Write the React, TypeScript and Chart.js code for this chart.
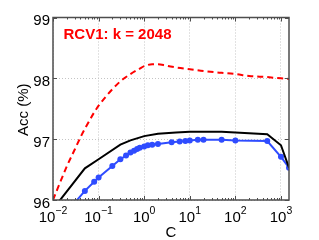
import { useEffect, useRef } from 'react';
import { Chart, registerables } from 'chart.js';

Chart.register(...registerables);

// C values and accuracies (%)
const cRed = [0.01, 0.02, 0.03, 0.04, 0.05, 0.08, 0.1, 0.2, 0.3, 0.5, 0.8, 1, 1.5, 2, 3, 5, 10, 20, 50, 100, 200, 500, 1000, 1500];
const accRed = [96.0, 96.55, 96.83, 97.03, 97.17, 97.44, 97.55, 97.82, 97.95, 98.07, 98.16, 98.2, 98.23, 98.23, 98.21, 98.18, 98.15, 98.12, 98.09, 98.07, 98.04, 98.02, 98.0, 97.99];

const cBlack = [0.01, 0.05, 0.1, 0.3, 0.5, 1, 2, 5, 10, 20, 50, 100, 500, 1000, 1500];
const accBlack = [95.85, 96.52, 96.67, 96.91, 96.98, 97.05, 97.09, 97.11, 97.12, 97.12, 97.12, 97.11, 97.08, 96.9, 96.53];

const cBlue = [0.02, 0.05, 0.08, 0.1, 0.2, 0.3, 0.4, 0.5, 0.6, 0.7, 0.8, 1, 1.2, 1.5, 2, 4, 6, 8, 10, 15, 20, 50, 100, 500, 1000, 1500];
const accBlue = [95.8, 96.15, 96.3, 96.37, 96.56, 96.67, 96.73, 96.78, 96.81, 96.84, 96.86, 96.88, 96.9, 96.91, 96.92, 96.95, 96.96, 96.97, 96.98, 96.99, 96.99, 96.99, 96.98, 96.97, 96.71, 96.53];

const xTickExps = [-2, -1, 0, 1, 2, 3];
const yTicks = [96, 97, 98, 99];
const annotation = 'RCV1: k = 2048';
const xTitle = 'C';
const yTitle = 'Acc (%)';

const FONT = '"Liberation Sans", Arial, Helvetica, sans-serif';

const decoPlugin = {
  id: 'deco',
  afterDraw(chart: any) {
    const { ctx, chartArea: a, scales } = chart;
    const x = scales.x;
    const y = scales.y;
    ctx.save();
    // frame
    ctx.strokeStyle = '#4d4d4d';
    ctx.lineWidth = 1.5;
    ctx.setLineDash([]);
    ctx.strokeRect(a.left, a.top, a.right - a.left, a.bottom - a.top);

    // ticks (inward)
    ctx.lineWidth = 1;
    ctx.beginPath();
    for (const e of xTickExps) {
      const px = Math.round(x.getPixelForValue(Math.pow(10, e))) + 0.5;
      ctx.moveTo(px, a.bottom); ctx.lineTo(px, a.bottom - 4);
      ctx.moveTo(px, a.top); ctx.lineTo(px, a.top + 4);
      for (let m = 2; m <= 9; m++) {
        const v = m * Math.pow(10, e);
        if (v > x.max) break;
        const mx = Math.round(x.getPixelForValue(v)) + 0.5;
        ctx.moveTo(mx, a.bottom); ctx.lineTo(mx, a.bottom - 2);
        ctx.moveTo(mx, a.top); ctx.lineTo(mx, a.top + 2);
      }
    }
    for (const v of yTicks) {
      const py = Math.round(y.getPixelForValue(v)) + 0.5;
      ctx.moveTo(a.left, py); ctx.lineTo(a.left + 4, py);
      ctx.moveTo(a.right, py); ctx.lineTo(a.right - 4, py);
    }
    ctx.stroke();

    // y tick labels
    ctx.fillStyle = '#000';
    ctx.font = `15px ${FONT}`;
    ctx.textAlign = 'right';
    ctx.textBaseline = 'alphabetic';
    for (const v of yTicks) {
      ctx.fillText(String(v), a.left - 3, y.getPixelForValue(v) + 7.5);
    }

    // x tick labels: 10 with superscript exponent
    ctx.textAlign = 'left';
    for (const e of xTickExps) {
      const px = x.getPixelForValue(Math.pow(10, e));
      const base = '10';
      const exp = e < 0 ? '\u2212' + Math.abs(e) : String(e);
      ctx.font = `15px ${FONT}`;
      const wb = ctx.measureText(base).width;
      ctx.font = `10.5px ${FONT}`;
      const we = ctx.measureText(exp).width;
      const start = px - (wb + we) / 2;
      ctx.font = `15px ${FONT}`;
      ctx.fillText(base, start, a.bottom + 21.5);
      ctx.font = `10.5px ${FONT}`;
      ctx.fillText(exp, start + wb, a.bottom + 13.5);
    }

    // axis titles
    ctx.font = `15px ${FONT}`;
    ctx.textAlign = 'center';
    ctx.fillText(xTitle, (a.left + a.right) / 2, a.bottom + 36.5);
    ctx.save();
    ctx.translate(28, (a.top + a.bottom) / 2 + 1);
    ctx.rotate(-Math.PI / 2);
    ctx.fillText(yTitle, 0, 0);
    ctx.restore();

    // annotation
    ctx.fillStyle = '#ff0000';
    ctx.font = `bold 15px ${FONT}`;
    ctx.textAlign = 'left';
    ctx.fillText(annotation, a.left + 10.5, a.top + 21);
    ctx.restore();
  },
};

export default function App() {
  const ref = useRef<HTMLCanvasElement>(null);
  useEffect(() => {
    document.body.style.margin = '0';
    const gridOpts = { color: '#c4c4c4', lineWidth: 1, drawTicks: false };
    const chart = new Chart(ref.current as HTMLCanvasElement, {
      type: 'line',
      data: {
        datasets: [
          {
            data: cRed.map((c, i) => ({ x: c, y: accRed[i] })),
            borderColor: '#ff0000',
            borderWidth: 2,
            borderDash: [6, 4],
            pointRadius: 0,
            cubicInterpolationMode: 'monotone',
            clip: 0,
          },
          {
            data: cBlack.map((c, i) => ({ x: c, y: accBlack[i] })),
            borderColor: '#000000',
            borderWidth: 2,
            pointRadius: 0,
            tension: 0,
            clip: 0,
          },
          {
            data: cBlue.map((c, i) => ({ x: c, y: accBlue[i] })),
            borderColor: '#2f4cff',
            backgroundColor: '#2f4cff',
            borderWidth: 2,
            pointRadius: 3,
            pointBorderWidth: 0,
            pointBackgroundColor: '#2f4cff',
            tension: 0,
            clip: 0,
          },
        ],
      } as any,
      options: {
        animation: false,
        responsive: false,
        events: [],
        layout: { padding: { left: 53, top: 17.5, right: 30, bottom: 40 } },
        plugins: { legend: { display: false }, tooltip: { enabled: false } },
        scales: {
          x: {
            type: 'logarithmic',
            min: 0.01,
            max: 1500,
            afterBuildTicks: (s: any) => {
              s.ticks = xTickExps.map((e) => ({ value: Math.pow(10, e) }));
            },
            ticks: { display: false },
            grid: gridOpts,
            border: { display: false, dash: [1, 2] },
          },
          y: {
            type: 'linear',
            min: 96,
            max: 99,
            afterBuildTicks: (s: any) => {
              s.ticks = yTicks.map((v) => ({ value: v }));
            },
            ticks: { display: false },
            grid: gridOpts,
            border: { display: false, dash: [1, 2] },
          },
        },
      } as any,
      plugins: [decoPlugin],
    });
    return () => chart.destroy();
  }, []);
  return (
    <div style={{ width: 319, height: 240 }}>
      <canvas ref={ref} width={319} height={240} style={{ display: 'block' }} />
    </div>
  );
}
